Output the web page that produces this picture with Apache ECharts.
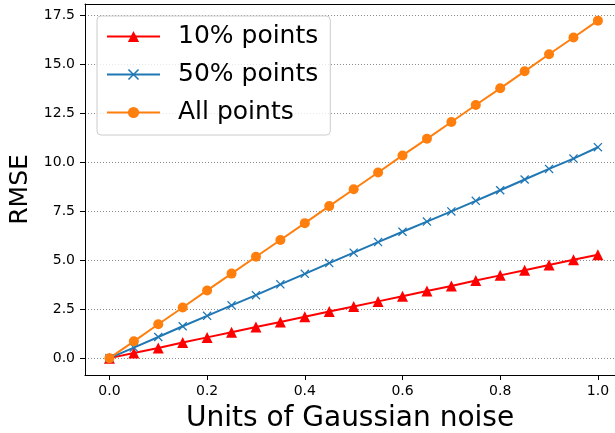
<!DOCTYPE html>
<html>
<head>
<meta charset="utf-8">
<script src="https://cdn.jsdelivr.net/npm/echarts@6/dist/echarts.min.js"></script>
<style>
  html, body { margin: 0; padding: 0; background: #fff; overflow: hidden; }
  #chart { width: 615px; height: 433px; }
</style>
</head>
<body>
<div id="chart"></div>
<script>
var noise = [0, 0.05, 0.1, 0.15, 0.2, 0.25, 0.3, 0.35, 0.4, 0.45, 0.5, 0.55, 0.6, 0.65, 0.7, 0.75, 0.8, 0.85, 0.9, 0.95, 1.0];
var pts10 = [0, 0.26, 0.52, 0.80, 1.06, 1.32, 1.59, 1.85, 2.11, 2.38, 2.64, 2.90, 3.16, 3.43, 3.69, 3.97, 4.23, 4.49, 4.76, 5.03, 5.28];
var pts50 = [0, 0.54, 1.08, 1.63, 2.16, 2.70, 3.22, 3.77, 4.31, 4.86, 5.39, 5.93, 6.46, 6.98, 7.50, 8.04, 8.58, 9.13, 9.67, 10.20, 10.78];
var ptsAll = [0, 0.86, 1.73, 2.59, 3.46, 4.32, 5.18, 6.04, 6.90, 7.77, 8.63, 9.49, 10.36, 11.21, 12.07, 12.94, 13.79, 14.66, 15.53, 16.39, 17.25];
var xTicks = [0, 0.2, 0.4, 0.6, 0.8, 1.0];
var yTicks = [0, 2.5, 5, 7.5, 10, 12.5, 15, 17.5];

var font = 'DejaVu Sans';
var crossPath = 'path://M0,1L1,0L5,4L9,0L10,1L6,5L10,9L9,10L5,6L1,10L0,9L4,5Z';

function pairs(ys) {
  return noise.map(function (x, i) { return [x, ys[i]]; });
}

function makeSeries(name, ys, color, symbol, size) {
  return {
    name: name,
    type: 'line',
    data: pairs(ys),
    symbol: symbol,
    symbolSize: size,
    showAllSymbol: true,
    clip: false,
    lineStyle: { color: color, width: 2 },
    itemStyle: { color: color },
    emphasis: { disabled: true },
    animation: false
  };
}

// plot box is cut off at the right edge of the picture (no right spine visible),
// so the x range stops a bit short of the usual 1.05 margin
var chart = echarts.init(document.getElementById('chart'), null, { renderer: 'canvas' });
chart.setOption({
  animation: false,
  grid: { left: 85, right: 0, top: 4, bottom: 58, containLabel: false, outerBoundsMode: 'none' },
  legend: {
    orient: 'vertical',
    left: 97, top: 16,
    padding: [8, 12, 10, 9],
    itemWidth: 53, itemHeight: 14, itemGap: 13,
    backgroundColor: 'rgba(255,255,255,0.8)',
    borderColor: '#cccccc', borderWidth: 1, borderRadius: 4,
    textStyle: { fontFamily: font, fontSize: 25, color: '#000', padding: [0, 0, 0, 13] },
    data: ['10% points', '50% points', 'All points']
  },
  xAxis: [{
    type: 'value',
    min: -0.05, max: 1.035,
    name: 'Units of Gaussian noise',
    nameLocation: 'middle',
    nameGap: 30,
    nameTextStyle: { fontFamily: font, fontSize: 28, color: '#000' },
    axisLine: { show: true, onZero: false, lineStyle: { color: '#000', width: 1 } },
    axisTick: { show: true, length: 5, customValues: xTicks, lineStyle: { color: '#000' } },
    axisLabel: {
      customValues: xTicks, margin: 9,
      fontFamily: font, fontSize: 14, color: '#000',
      formatter: function (v) { return v.toFixed(1); }
    },
    splitLine: { show: false }
  }, {
    // top spine only
    type: 'value',
    position: 'top',
    min: -0.05, max: 1.035,
    axisLine: { show: true, onZero: false, lineStyle: { color: '#000', width: 1 } },
    axisTick: { show: false },
    axisLabel: { show: false },
    splitLine: { show: false }
  }],
  yAxis: {
    type: 'value',
    min: -0.862, max: 18.1,
    name: 'RMSE',
    nameLocation: 'middle',
    nameRotate: 90,
    nameGap: 47,
    nameTextStyle: { fontFamily: font, fontSize: 25, color: '#000' },
    axisLine: { show: true, onZero: false, lineStyle: { color: '#000', width: 1 } },
    axisTick: { show: true, length: 5, customValues: yTicks, lineStyle: { color: '#000' } },
    axisLabel: {
      customValues: yTicks, margin: 10,
      fontFamily: font, fontSize: 14, color: '#000',
      formatter: function (v) { return v.toFixed(1); }
    },
    splitLine: {
      show: true,
      customValues: yTicks,
      lineStyle: { color: '#8c8c8c', width: 1, type: [1, 2] }
    }
  },
  series: [
    makeSeries('10% points', pts10, '#ff0000', 'triangle', 11),
    makeSeries('50% points', pts50, '#1f77b4', crossPath, 9),
    makeSeries('All points', ptsAll, '#ff7f0e', 'circle', 10)
  ]
});
</script>
</body>
</html>
